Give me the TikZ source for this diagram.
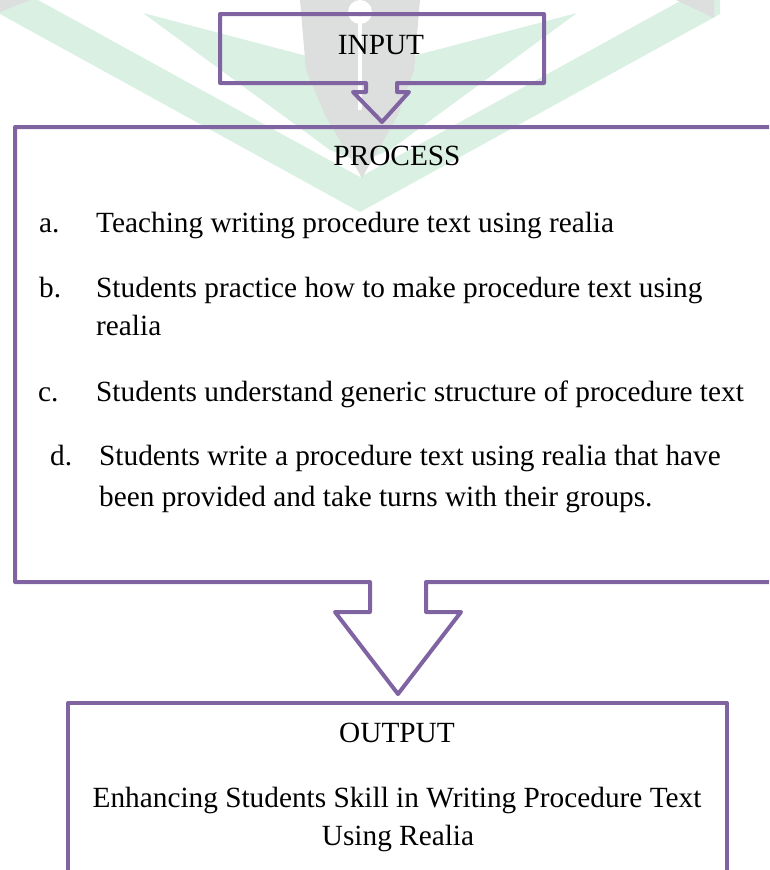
\documentclass[tikz,border=0pt]{standalone}
\usepackage{fontspec}
\setmainfont{Liberation Serif}
\definecolor{vio}{HTML}{8064A2}
\definecolor{wmgreen}{HTML}{D9F0E3}
\definecolor{wmgrey}{HTML}{DCDFDE}
\begin{document}
\begin{tikzpicture}[x=1pt,y=-1pt,
  frame/.style={draw=vio,line width=4pt,line join=round},
  txt/.style={font=\fontsize{29.3}{34}\selectfont,inner sep=0pt,anchor=base},
  lbl/.style={txt,anchor=base west}]
\useasboundingbox (0,0) rectangle (769,870);
\begin{scope}
\clip (0,0) rectangle (769,870);
% watermark: green chevrons
\fill[wmgreen] (0,0) -- (0,14) -- (360,212) -- (720,14) -- (720,0) -- (682,0) -- (360,177) -- (38,0) -- cycle;
\fill[wmgreen] (143,13) -- (360,70) -- (577,13) -- (390,150) -- (360,162) -- (330,150) -- cycle;
\fill[wmgrey] (0,0) -- (30,0) -- (0,12) -- cycle;
\fill[wmgrey] (676,0) -- (714,0) -- (714,18) -- cycle;
% watermark: pen nib
\fill[wmgrey] (300,0) -- (306,70) -- (325,115) -- (362,178) -- (398,115) -- (414,70) -- (420,0) -- cycle;
\fill[white] (360,12) circle (12);
\fill[white] (358,20) rectangle (362,110);
% boxes
\draw[frame] (366,83) -- (220,83) -- (220,14) -- (544,14) -- (544,83) -- (397,83)
  -- (397,92) -- (409,92) -- (382,122) -- (353,92) -- (366,92) -- cycle;
\draw[frame] (775,127) -- (15,127) -- (15,582) -- (370,582) -- (370,612) -- (335,612)
  -- (398,694) -- (461,612) -- (426,612) -- (426,582) -- (775,582);
\draw[frame] (68,875) -- (68,703) -- (727,703) -- (727,875);
\end{scope}
% texts
\node[txt] (input) at (381,54) {INPUT};
\node[txt] (process) at (397,165) {PROCESS};
\node[lbl] (la) at (39,232) {a.};
\node[lbl] (ta) at (96,232) {Teaching writing procedure text using realia};
\node[lbl] (lb) at (39,297) {b.};
\node[lbl] (tb) at (96,297) {Students practice how to make procedure text using};
\node[lbl] (tb2) at (96,335) {realia};
\node[lbl] (lc) at (38,401) {c.};
\node[lbl] (tc) at (96,401) {Students understand generic structure of procedure text};
\node[lbl] (ld) at (50,465) {d.};
\node[lbl] (td) at (99,465) {Students write a procedure text using realia that have};
\node[lbl] (td2) at (99,506) {been provided and take turns with their groups.};
\node[txt] (output) at (397,742) {OUTPUT};
\node[txt] (res1) at (397,807) {Enhancing Students Skill in Writing Procedure Text};
\node[txt] (res2) at (398,845) {Using Realia};
\end{tikzpicture}
\end{document}
